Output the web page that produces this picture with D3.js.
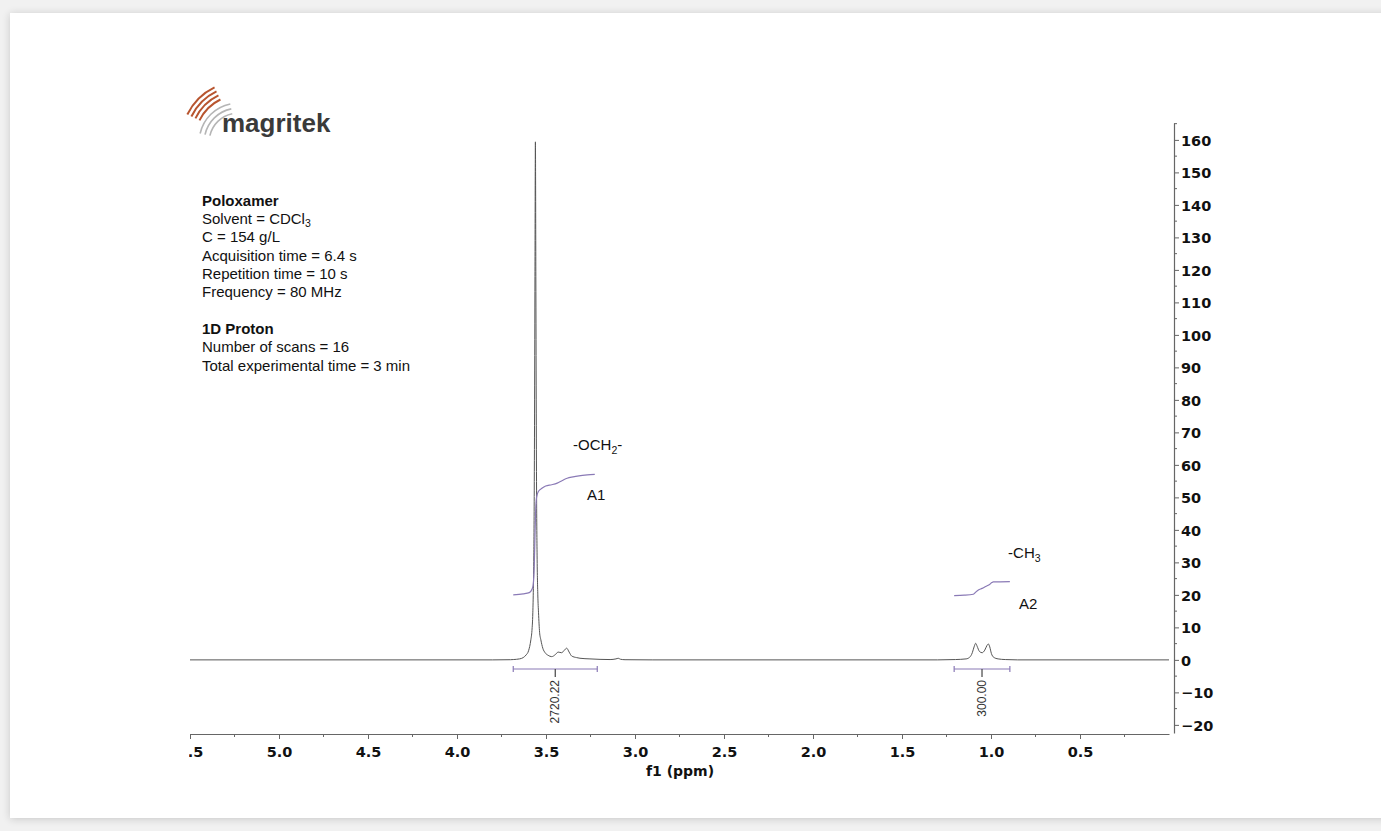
<!DOCTYPE html>
<html>
<head>
<meta charset="utf-8">
<script src="https://cdn.jsdelivr.net/npm/d3@7"></script>
<style>
  body { margin: 0; background: #f1f1f1; }
  svg { display: block; }
  .info { font-family: "Liberation Sans", Arial, sans-serif; font-size: 15px; fill: #111; }
  .tick text { font-family: "DejaVu Sans", Verdana, sans-serif; font-weight: bold; font-size: 14.5px; fill: #111; }
  .axis path, .axis line { stroke: #666; }
</style>
</head>
<body>
<svg id="chart" width="1381" height="831"></svg>
<script>
// 1H NMR spectrum, Poloxamer in CDCl3

var width = 1381,
    height = 831;

// spectrum: chemical shift (ppm) and intensity
var specPpm = [5.5, 3.80, 3.70, 3.684, 3.649, 3.628, 3.612, 3.598, 3.585, 3.579, 3.574, 3.571, 3.5685, 3.566, 3.564, 3.562,
  3.5595, 3.557, 3.555, 3.553, 3.550, 3.546, 3.542, 3.536, 3.529, 3.518, 3.505, 3.488, 3.468, 3.448, 3.432, 3.412,
  3.398, 3.384, 3.370, 3.356, 3.328, 3.309, 3.253, 3.140, 3.107, 3.094, 3.082, 3.056, 2.90, 1.30, 1.20, 1.14, 1.12,
  1.105, 1.095, 1.086, 1.078, 1.065, 1.050, 1.035, 1.023, 1.015, 1.007, 0.998, 0.985, 0.96, 0.92, 0.85, 0.0];
var specInt = [0, 0, 0.05, 0.1, 0.3, 0.7, 1.5, 2.8, 6.2, 9, 14.5, 22, 32, 52, 80, 118,
  159.4, 118, 80, 52, 32, 20, 14.5, 8.5, 6.2, 3.6, 2.2, 1.4, 1.0, 1.6, 2.4, 2.2,
  2.9, 3.6, 2.4, 1.2, 0.7, 0.5, 0.3, 0.1, 0.3, 0.5, 0.2, 0.05, 0, 0, 0.1, 0.3, 0.8,
  2.2, 4.0, 5.1, 4.2, 2.6, 2.2, 3.0, 4.4, 4.9, 4.0, 2.0, 0.8, 0.3, 0.1, 0, 0];

// integral curves (drawn in intensity units)
var intA1Ppm = [3.684, 3.628, 3.594, 3.578, 3.572, 3.566, 3.562, 3.558, 3.553, 3.543, 3.523, 3.502, 3.468, 3.437, 3.408, 3.381, 3.348, 3.315, 3.268, 3.226];
var intA1Val = [20, 20.3, 20.7, 21.8, 23, 29, 38, 46, 50, 51.8, 52.8, 53.5, 53.9, 54.4, 55.2, 55.9, 56.3, 56.6, 56.9, 57.1];
var intA2Ppm = [1.207, 1.150, 1.099, 1.085, 1.071, 1.050, 1.030, 1.006, 0.995, 0.987, 0.894];
var intA2Val = [19.8, 19.9, 20.2, 20.9, 21.5, 22.0, 22.6, 23.3, 23.8, 24.0, 24.1];

// integration regions
var regionFrom = [3.684, 1.207];
var regionTo = [3.212, 0.894];
var regionValue = ["2720.22", "300.00"];
var regionName = ["A1", "A2"];

// axis ticks
var xTicks = [5.5, 5.0, 4.5, 4.0, 3.5, 3.0, 2.5, 2.0, 1.5, 1.0, 0.5];
var xMinor = [5.25, 4.75, 4.25, 3.75, 3.25, 2.75, 2.25, 1.75, 1.25, 0.75, 0.25];
var yTicks = d3.range(-20, 161, 10);
var yMinor = d3.range(-15, 166, 10);

var infoLines = [
  ["Poloxamer", true], ["Solvent = CDCl|3", false], ["C = 154 g/L", false], ["Acquisition time = 6.4 s", false],
  ["Repetition time = 10 s", false], ["Frequency = 80 MHz", false], ["", false],
  ["1D Proton", true], ["Number of scans = 16", false], ["Total experimental time = 3 min", false]
];

var svg = d3.select("#chart");

// card with soft shadow
var defs = svg.append("defs");
var f = defs.append("filter").attr("id", "shadow").attr("x", "-5%").attr("y", "-5%").attr("width", "110%").attr("height", "110%");
f.append("feGaussianBlur").attr("in", "SourceAlpha").attr("stdDeviation", 4);
f.append("feOffset").attr("dy", 1);
f.append("feComponentTransfer").append("feFuncA").attr("type", "linear").attr("slope", 0.18);
var fm = f.append("feMerge");
fm.append("feMergeNode");
fm.append("feMergeNode").attr("in", "SourceGraphic");
// clip in the axis group's own coordinates (it is translated to y=734)
defs.append("clipPath").attr("id", "xclip").append("rect")
    .attr("x", 189).attr("y", -10).attr("width", 1100).attr("height", 60);

svg.append("rect").attr("x", 10).attr("y", 13).attr("width", 1400).attr("height", 805)
    .attr("fill", "#fff").attr("filter", "url(#shadow)");

// scales
var x = d3.scaleLinear().domain([5.5, 0]).range([190, 1169]);
var y = d3.scaleLinear().domain([-22.5, 165.2]).range([733, 123]);

// bottom axis
var gx = svg.append("g").attr("class", "axis").attr("clip-path", "url(#xclip)")
    .attr("transform", "translate(0,734)")
    .call(d3.axisBottom(x).tickValues(xTicks).tickFormat(d3.format(".1f")).tickSize(5).tickSizeOuter(0).tickPadding(8));
gx.select(".domain").attr("stroke-width", 1.2);
gx.selectAll(".minor").data(xMinor).enter().append("line")
    .attr("class", "minor").attr("x1", x).attr("x2", x).attr("y1", 0).attr("y2", 3).attr("stroke", "#666");

svg.append("text").attr("x", 680).attr("y", 776).attr("text-anchor", "middle")
    .style("font-family", "'DejaVu Sans', Verdana, sans-serif").style("font-weight", "bold").style("font-size", "14px")
    .attr("fill", "#111").text("f1 (ppm)");

// right axis
var gy = svg.append("g").attr("class", "axis").attr("transform", "translate(1174,0)")
    .call(d3.axisRight(y).tickValues(yTicks).tickSize(5).tickSizeOuter(0).tickPadding(2));
gy.select(".domain").attr("stroke-width", 1.2);
gy.selectAll(".tick text").attr("dy", "0.36em");
gy.selectAll(".minor").data(yMinor).enter().append("line")
    .attr("class", "minor").attr("y1", y).attr("y2", y).attr("x1", 0).attr("x2", 3).attr("stroke", "#666");

// spectrum
var spec = specPpm.map(function(p, i) { return [p, specInt[i]]; });
var line = d3.line().x(function(d) { return x(d[0]); }).y(function(d) { return y(d[1]); }).curve(d3.curveMonotoneX);
svg.append("path").datum(spec).attr("d", line)
    .attr("fill", "none").attr("stroke", "#555").attr("stroke-width", 1);

// integral curves
var purple = "#8a7ab6";
[[intA1Ppm, intA1Val], [intA2Ppm, intA2Val]].forEach(function(s) {
  var pts = s[0].map(function(p, i) { return [p, s[1][i]]; });
  svg.append("path").datum(pts).attr("d", line)
      .attr("fill", "none").attr("stroke", purple).attr("stroke-width", 1.2);
});

// integration brackets and values
regionFrom.forEach(function(a, i) {
  var b = regionTo[i], x0 = x(a), x1 = x(b), xm = (x0 + x1) / 2, yb = 669;
  var g = svg.append("g").attr("stroke", purple).attr("stroke-width", 1.2);
  g.append("line").attr("x1", x0).attr("x2", x1).attr("y1", yb).attr("y2", yb);
  g.append("line").attr("x1", x0).attr("x2", x0).attr("y1", yb - 3).attr("y2", yb + 3);
  g.append("line").attr("x1", x1).attr("x2", x1).attr("y1", yb - 3).attr("y2", yb + 3);
  g.append("line").attr("x1", xm).attr("x2", xm).attr("y1", yb).attr("y2", yb + 8).attr("stroke", "#444");
  svg.append("text").attr("transform", "translate(" + (xm + 4) + "," + (yb + 11) + ") rotate(-90)")
      .attr("text-anchor", "end")
      .style("font-family", "'Liberation Sans', Arial, sans-serif").style("font-size", "12px")
      .attr("fill", "#333").text(regionValue[i]);
});

// group labels
function label(tx, ty, main, sub, tail) {
  var t = svg.append("text").attr("x", tx).attr("y", ty).attr("class", "info");
  t.append("tspan").text(main);
  if (sub) t.append("tspan").attr("dy", 4).style("font-size", "10.5px").text(sub);
  if (tail) t.append("tspan").attr("dy", -4).text(tail);
}
label(x(3.348), 450, "-OCH", "2", "-");
label(x(3.27), 500, regionName[0]);
label(x(0.904), 558, "-CH", "3");
label(x(0.843), 609, regionName[1]);

// info block
var info = svg.append("g").attr("class", "info");
infoLines.forEach(function(l, i) {
  if (!l[0]) return;
  var t = info.append("text").attr("x", 202).attr("y", 205.5 + i * 18.35)
      .style("font-weight", l[1] ? "bold" : null);
  var parts = l[0].split("|");
  t.append("tspan").text(parts[0]);
  if (parts[1]) t.append("tspan").attr("dy", 3).style("font-size", "10.5px").text(parts[1]);
});

// logo
var logo = svg.append("g");
var arc = d3.arc();
[44, 48.5, 53, 57.5].forEach(function(r) {
  logo.append("path").attr("transform", "translate(240,140)")
      .attr("d", arc({innerRadius: r, outerRadius: r + 2, startAngle: -1.12, endAngle: -0.45}))
      .attr("fill", "#b8552f");
});
[28, 33, 38].forEach(function(r) {
  logo.append("path").attr("transform", "translate(238,142)")
      .attr("d", arc({innerRadius: r, outerRadius: r + 1.6, startAngle: -1.35, endAngle: -0.2}))
      .attr("fill", "#b5b5b5");
});
svg.append("text").attr("x", 222).attr("y", 132)
    .style("font-family", "'Liberation Sans', Arial, sans-serif").style("font-weight", "bold").style("font-size", "26px")
    .attr("fill", "#3a3a3a").text("magritek");
</script>
</body>
</html>
